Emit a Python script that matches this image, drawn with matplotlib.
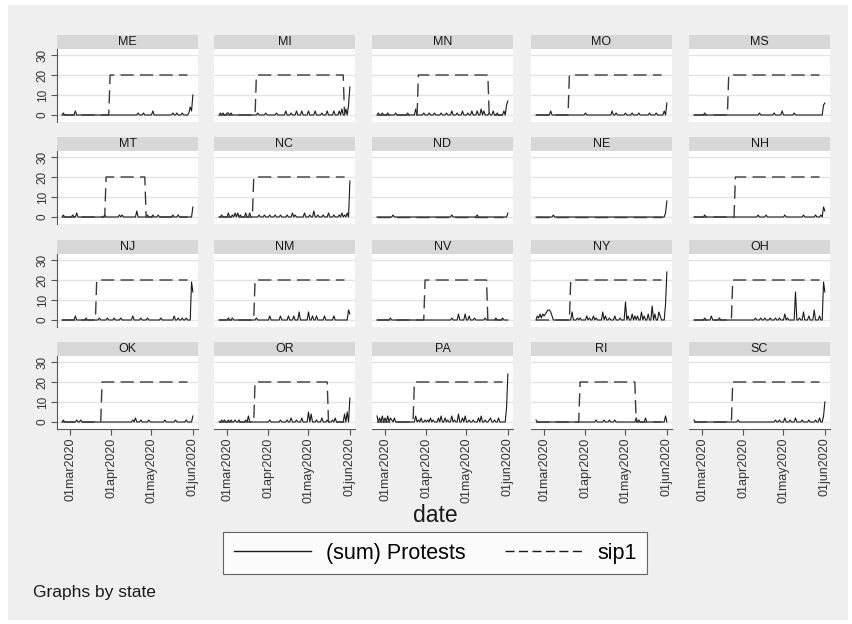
import matplotlib
matplotlib.use("Agg")
import matplotlib.pyplot as plt
from matplotlib.lines import Line2D
from matplotlib.patches import Rectangle
import numpy as np
import pandas as pd

plt.rcParams["font.family"] = ["Liberation Sans", "DejaVu Sans"]

# daily protest counts (days not listed are 0)
ME = [("02-25", 1), ("03-05", 2), ("04-21", 1), ("04-25", 1), ("05-02", 2), ("05-17", 1),
      ("05-20", 1), ("05-24", 1), ("05-29", 1), ("05-30", 4), ("05-31", 2), ("06-01", 10)]
MI = [("02-25", 1), ("02-27", 1), ("03-01", 1), ("03-02", 1), ("03-04", 1), ("03-24", 1),
      ("03-30", 1), ("04-07", 1), ("04-14", 2), ("04-18", 1), ("04-22", 2), ("04-26", 2),
      ("05-01", 2), ("05-06", 2), ("05-11", 1), ("05-15", 2), ("05-20", 2), ("05-24", 2),
      ("05-26", 3), ("05-29", 3), ("05-31", 5), ("06-01", 14)]
MN = [("02-25", 1), ("02-28", 1), ("03-03", 1), ("03-09", 1), ("03-18", 1), ("03-24", 3),
      ("03-30", 1), ("04-03", 1), ("04-07", 1), ("04-12", 1), ("04-16", 1), ("04-20", 2),
      ("04-24", 1), ("04-28", 2), ("05-02", 1), ("05-05", 2), ("05-09", 2), ("05-12", 3),
      ("05-14", 2), ("05-18", 1), ("05-21", 2), ("05-24", 1), ("05-29", 2), ("05-31", 5),
      ("06-01", 7)]
MO = [("03-06", 2), ("04-01", 1), ("04-21", 2), ("04-24", 1), ("05-01", 1), ("05-06", 1),
      ("05-11", 1), ("05-19", 1), ("05-24", 1), ("05-30", 2), ("06-01", 6)]
MS = [("03-03", 1), ("04-13", 1), ("04-24", 1), ("04-30", 2), ("05-09", 1), ("05-31", 5),
      ("06-01", 6)]
MT = [("02-25", 1), ("03-03", 1), ("03-06", 2), ("03-27", 1), ("04-07", 1), ("04-09", 1),
      ("04-20", 3), ("04-28", 1), ("05-02", 1), ("05-06", 1), ("05-17", 1), ("05-21", 1),
      ("06-01", 5)]
NC = [("02-26", 1), ("03-02", 2), ("03-05", 1), ("03-07", 2), ("03-09", 2), ("03-11", 1),
      ("03-15", 2), ("03-18", 2), ("03-25", 1), ("03-29", 1), ("04-02", 1), ("04-06", 1),
      ("04-10", 1), ("04-15", 1), ("04-19", 2), ("04-21", 1), ("04-28", 2), ("05-02", 1),
      ("05-05", 3), ("05-08", 1), ("05-12", 1), ("05-16", 2), ("05-20", 1), ("05-24", 1),
      ("05-26", 2), ("05-28", 1), ("05-30", 2), ("06-01", 18)]
ND = [("03-07", 1), ("04-20", 1), ("05-09", 1), ("06-01", 2)]
NE = [("03-08", 1), ("05-31", 2), ("06-01", 8)]
NH = [("03-03", 1), ("04-12", 1), ("04-18", 1), ("05-02", 1), ("05-16", 1), ("05-25", 1),
      ("05-29", 1), ("05-31", 5), ("06-01", 3)]
NJ = [("03-05", 2), ("03-13", 1), ("03-23", 1), ("03-29", 1), ("04-03", 1), ("04-08", 1),
      ("04-17", 2), ("04-23", 1), ("04-28", 1), ("05-08", 1), ("05-18", 2), ("05-21", 1),
      ("05-24", 1), ("05-27", 1), ("05-31", 19), ("06-01", 14)]
NM = [("03-02", 1), ("03-05", 1), ("03-23", 1), ("04-02", 2), ("04-10", 2), ("04-16", 2),
      ("04-20", 2), ("04-24", 4), ("05-01", 4), ("05-04", 2), ("05-07", 2), ("05-13", 2),
      ("05-20", 2), ("05-31", 5), ("06-01", 3)]
NV = [("03-05", 1), ("04-20", 1), ("04-25", 3), ("04-30", 3), ("05-03", 2), ("05-07", 1),
      ("05-15", 1), ("05-23", 1), ("05-28", 1)]
NY = [("02-25", 2), ("02-26", 1), ("02-27", 3), ("02-28", 1), ("02-29", 3), ("03-01", 2),
      ("03-02", 3), ("03-03", 4), ("03-04", 5), ("03-05", 5), ("03-06", 4), ("03-07", 2),
      ("03-22", 4), ("03-26", 1), ("03-28", 1), ("04-02", 2), ("04-04", 1), ("04-07", 2),
      ("04-09", 1), ("04-14", 4), ("04-16", 2), ("04-19", 1), ("04-23", 2), ("04-27", 1),
      ("05-01", 9), ("05-03", 2), ("05-06", 3), ("05-08", 2), ("05-10", 2), ("05-13", 4),
      ("05-15", 2), ("05-18", 3), ("05-21", 7), ("05-23", 3), ("05-26", 4), ("05-27", 2),
      ("05-31", 8), ("06-01", 24)]
OH = [("03-03", 1), ("03-08", 2), ("03-14", 1), ("04-10", 1), ("04-14", 1), ("04-17", 1),
      ("04-21", 1), ("04-25", 1), ("04-28", 1), ("05-02", 3), ("05-04", 1), ("05-10", 14),
      ("05-13", 1), ("05-16", 4), ("05-20", 2), ("05-24", 5), ("05-28", 2), ("05-31", 19),
      ("06-01", 14)]
OK = [("02-25", 1), ("03-06", 1), ("03-09", 1), ("04-17", 1), ("04-19", 2), ("04-23", 1),
      ("04-29", 1), ("05-11", 1), ("05-19", 1), ("05-27", 1), ("06-01", 3)]
OR = [("02-26", 1), ("02-28", 1), ("03-02", 1), ("03-04", 1), ("03-07", 1), ("03-10", 1),
      ("03-15", 1), ("03-17", 3), ("04-02", 1), ("04-10", 1), ("04-15", 1), ("04-18", 2),
      ("04-22", 1), ("04-26", 2), ("05-01", 5), ("05-03", 4), ("05-07", 1), ("05-11", 2),
      ("05-15", 1), ("05-19", 1), ("05-21", 2), ("05-28", 4), ("05-30", 5), ("06-01", 12)]
PA = [("02-24", 3), ("02-26", 2), ("02-28", 3), ("03-01", 2), ("03-03", 3), ("03-05", 2),
      ("03-06", 1), ("03-08", 2), ("03-24", 3), ("03-26", 1), ("03-28", 2), ("03-31", 1),
      ("04-02", 1), ("04-04", 2), ("04-06", 1), ("04-10", 2), ("04-12", 3), ("04-15", 2),
      ("04-17", 1), ("04-20", 3), ("04-22", 1), ("04-25", 4), ("04-28", 2), ("04-30", 3),
      ("05-03", 1), ("05-06", 1), ("05-10", 2), ("05-12", 3), ("05-15", 1), ("05-18", 1),
      ("05-19", 2), ("05-22", 1), ("05-25", 2), ("05-31", 7), ("06-01", 24)]
RI = [("02-24", 1), ("04-09", 1), ("04-15", 1), ("04-19", 1), ("04-23", 1), ("05-09", 2),
      ("05-11", 1), ("05-16", 2), ("05-31", 3)]
SC = [("02-24", 1), ("03-28", 1), ("04-25", 1), ("04-28", 1), ("05-02", 2), ("05-06", 1),
      ("05-10", 2), ("05-15", 1), ("05-20", 1), ("05-25", 1), ("05-28", 2), ("05-31", 3),
      ("06-01", 10)]

states = ["ME", "MI", "MN", "MO", "MS", "MT", "NC", "ND", "NE", "NH",
          "NJ", "NM", "NV", "NY", "OH", "OK", "OR", "PA", "RI", "SC"]
protests = [ME, MI, MN, MO, MS, MT, NC, ND, NE, NH, NJ, NM, NV, NY, OH, OK, OR, PA, RI, SC]

# shelter-in-place window (sip1 = 20 inside it); None = no order / still running
sip_start = ["03-31", "03-23", "03-26", "03-20", "03-21", "03-28", "03-21", None, None, "03-26",
             "03-21", "03-22", "03-31", "03-21", "03-24", "03-25", "03-22", "03-23", "03-28", "03-24"]
sip_end = [None, "05-27", "05-17", None, None, "04-26", None, None, None, None,
           None, None, "05-16", None, None, None, "05-15", None, "05-08", None]
sip_value = 20
sip_last = "05-28"

first_day, last_day = "2020-02-24", "2020-06-01"
tick_days = ["2020-03-01", "2020-04-01", "2020-05-01", "2020-06-01"]
tick_labels = ["01mar2020", "01apr2020", "01may2020", "01jun2020"]

W, H = 852, 624
BG = "#efefef"
STRIP = "#d7d7d7"
GRID = "#e4e4e4"


def px(x, y, w, h):
    return [x / W, 1 - (y + h) / H, w / W, h / H]


fig = plt.figure(figsize=(W / 100, H / 100), dpi=100, facecolor="white")
fig.patches.append(Rectangle((8 / W, 1 - 620 / H), 840 / W, 615 / H, transform=fig.transFigure,
                             facecolor=BG, edgecolor="none", zorder=-10))

dates = pd.date_range(first_day, last_day, freq="D")
col_x = [57, 214, 372, 531, 689]
row_y = [35, 137, 240, 342]
pw, sh, ph = 141, 14, 73

for i, st in enumerate(states):
    r, c = divmod(i, 5)
    x0, y0 = col_x[c], row_y[r]

    prot = pd.Series(0.0, index=dates)
    for md, v in protests[i]:
        prot[pd.Timestamp("2020-" + md)] = v

    sip = pd.Series(0.0, index=dates)
    if sip_start[i]:
        end = sip_end[i] or sip_last
        sip[pd.Timestamp("2020-" + sip_start[i]):pd.Timestamp("2020-" + end)] = sip_value
    sip[sip.index > pd.Timestamp("2020-" + sip_last)] = np.nan

    # strip with the state name
    hax = fig.add_axes(px(x0, y0, pw, sh))
    hax.set_facecolor(STRIP)
    hax.set_xticks([])
    hax.set_yticks([])
    for s in hax.spines.values():
        s.set_visible(False)
    hax.text(0.5, 0.5, st, ha="center", va="center", fontsize=9, color="#1a1a1a",
             transform=hax.transAxes)

    ax = fig.add_axes(px(x0, y0 + sh, pw, ph))
    ax.set_facecolor("white")
    ax.plot(prot.index, prot.values, color="#1a1a1a", lw=0.8, zorder=3)
    ax.plot(sip.index, sip.values, color="#3a3a3a", lw=1.0, dashes=(9.5, 4.5), zorder=4)

    ax.set_ylim(-3.5, 33)
    ax.set_xlim(pd.Timestamp("2020-02-20 06:00"), pd.Timestamp("2020-06-04 20:00"))
    ax.set_yticks([0, 10, 20, 30])
    ax.grid(axis="y", color=GRID, lw=1.0)
    ax.set_axisbelow(True)
    for s in ax.spines.values():
        s.set_visible(False)

    if c == 0:
        ax.spines["left"].set_visible(True)
        ax.spines["left"].set_color("#555555")
        ax.spines["left"].set_linewidth(0.8)
        ax.set_yticklabels(["0", "10", "20", "30"], rotation=90, va="center", fontsize=8.5,
                           color="#333333")
        ax.tick_params(axis="y", length=4, width=0.8, color="#555555", pad=2)
    else:
        ax.tick_params(axis="y", left=False, labelleft=False)

    ax.set_xticks(pd.to_datetime(tick_days))
    if r == 3:
        ax.spines["bottom"].set_visible(True)
        ax.spines["bottom"].set_color("#555555")
        ax.spines["bottom"].set_linewidth(0.8)
        ax.set_xticklabels(tick_labels, rotation=90, fontsize=9, color="#333333")
        ax.tick_params(axis="x", length=4, width=0.8, color="#555555", pad=2)
    else:
        ax.tick_params(axis="x", bottom=False, labelbottom=False)

fig.text(435 / W, 1 - 516 / H, "date", ha="center", va="center", fontsize=16.5, color="#1a1a1a")

handles = [Line2D([], [], color="#1a1a1a", lw=1.0),
           Line2D([], [], color="#1a1a1a", lw=1.0, dashes=(6.5, 3.2))]
leg = fig.legend(handles, ["(sum) Protests", "sip1"], ncol=2, loc="center",
                 bbox_to_anchor=(435 / W, 1 - 553 / H), fontsize=15.5, frameon=True,
                 fancybox=False, edgecolor="#404040", handlelength=3.6, columnspacing=1.8,
                 handletextpad=0.7, borderpad=0.5, borderaxespad=0)
leg.get_frame().set_linewidth(0.8)

fig.text(33 / W, 1 - 593 / H, "Graphs by state", ha="left", va="center", fontsize=12.5,
         color="#1a1a1a")

fig.savefig("out.png", dpi=100, facecolor=fig.get_facecolor())
